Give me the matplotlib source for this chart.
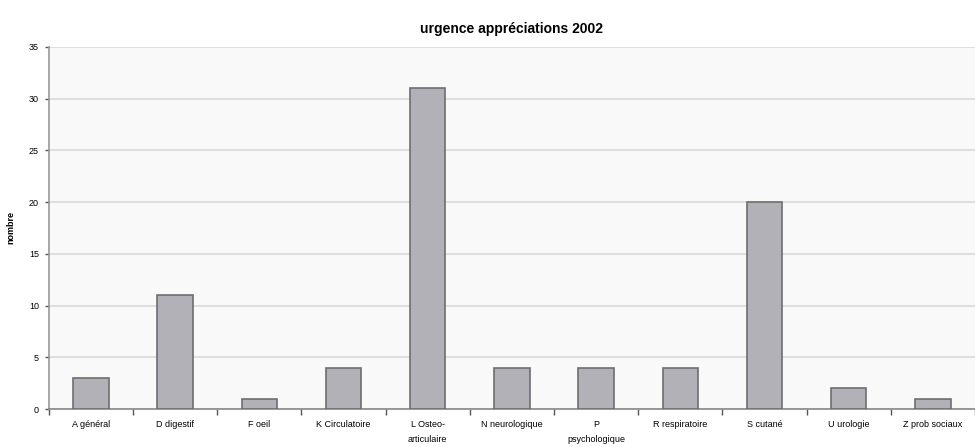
import numpy as np
import matplotlib.pyplot as plt

plt.rcParams['font.family'] = ['Liberation Sans', 'DejaVu Sans']

categories = ["A général", "D digestif", "F oeil", "K Circulatoire", "L Osteo-\narticulaire",
              "N neurologique", "P\npsychologique", "R respiratoire", "S cutané",
              "U urologie", "Z prob sociaux"]
values = [3, 11, 1, 4, 31, 4, 4, 4, 20, 2, 1]

fig = plt.figure(figsize=(9.75, 4.47), dpi=100)
ax = fig.add_axes([0.05, 0.085, 0.95, 0.81])
ax.set_facecolor('#f9f9f9')

x = np.arange(len(categories))
ax.bar(x, values, width=0.42, color='#b1b1b7', edgecolor='#6e6e72', linewidth=1.2, zorder=3)

ax.set_xlim(-0.5, len(categories) - 0.5)
ax.set_ylim(0, 35)
ax.set_yticks(range(0, 36, 5))
ax.yaxis.grid(True, color='#d9d9d9', linewidth=1.2, zorder=0)

# graduations entre les categories, etiquettes au centre
ax.set_xticks(np.arange(-0.5, len(categories), 1.0))
ax.set_xticklabels([])
ax.set_xticks(x, minor=True)
ax.set_xticklabels(categories, minor=True, fontsize=6.5, va='top', linespacing=1.9)
ax.tick_params(axis='x', which='minor', length=0, pad=8)
ax.tick_params(axis='x', which='major', length=4, width=1, color='#555555', direction='out')
ax.tick_params(axis='y', length=3, width=1, color='#555555', labelsize=6.5, pad=4)

for s in ['top', 'right']:
    ax.spines[s].set_visible(False)
ax.spines['left'].set_color('#999999')
ax.spines['bottom'].set_color('#888888')
ax.spines['left'].set_linewidth(1.2)
ax.spines['bottom'].set_linewidth(1.2)

ax.set_ylabel('nombre', fontsize=6.5, fontweight='bold', labelpad=10)
ax.set_title('urgence appréciations 2002', fontsize=10, fontweight='bold', pad=10)

fig.savefig('out.png', dpi=100)
